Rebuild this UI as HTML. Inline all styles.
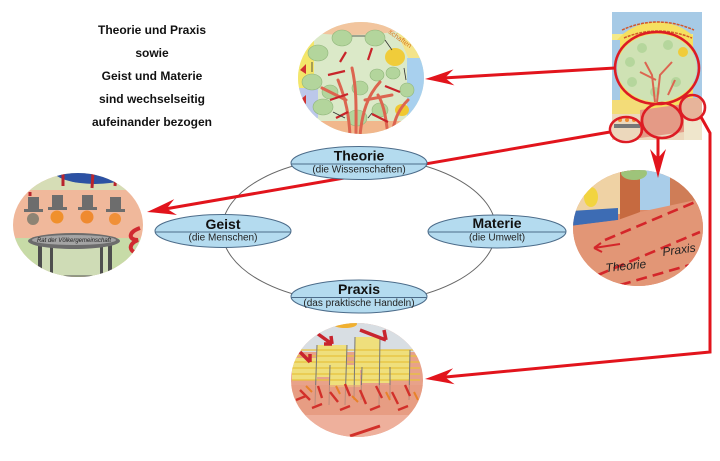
<!DOCTYPE html>
<html><head><meta charset="utf-8">
<style>
html,body{margin:0;padding:0;background:#fff;}
svg{display:block;}
text{font-family:"Liberation Sans",Arial,sans-serif;}
</style></head>
<body>
<svg width="720" height="461" viewBox="0 0 720 461" xmlns="http://www.w3.org/2000/svg">
<defs>
<clipPath id="cTop"><ellipse cx="361" cy="78" rx="63" ry="56"/></clipPath>
<clipPath id="cGeist"><ellipse cx="78" cy="225" rx="65" ry="52"/></clipPath>
<clipPath id="cMat"><ellipse cx="638" cy="228" rx="65" ry="58"/></clipPath>
<clipPath id="cPrax"><ellipse cx="357" cy="380" rx="66" ry="57"/></clipPath>
<clipPath id="cPoster"><rect x="612" y="12" width="90" height="128"/></clipPath>
</defs>

<!-- top-left text -->
<g font-size="12" font-weight="bold" fill="#111" text-anchor="middle">
<text x="152" y="34">Theorie und Praxis</text>
<text x="152" y="57">sowie</text>
<text x="152" y="80">Geist und Materie</text>
<text x="152" y="103">sind wechselseitig</text>
<text x="152" y="126">aufeinander bezogen</text>
</g>

<!-- TOP IMAGE: tree -->
<g clip-path="url(#cTop)">
<rect x="296" y="20" width="132" height="116" fill="#dbe9c8"/>
<ellipse cx="350" cy="18" rx="75" ry="17" fill="#f2c59e"/>
<rect x="296" y="28" width="18" height="66" fill="#f4e66a"/>
<rect x="296" y="88" width="22" height="30" fill="#bcc8ea"/>
<path d="M392,20 L430,20 L430,62 L410,62 Z" fill="#f4e48a"/>
<rect x="407" y="58" width="22" height="62" fill="#a8d0ee"/>
<rect x="296" y="121" width="132" height="16" fill="#f1b78c"/>
<g fill="#b3d59c" stroke="#8fb57a" stroke-width="0.6">
<ellipse cx="342" cy="38" rx="10" ry="8"/>
<ellipse cx="375" cy="38" rx="10" ry="8"/>
<ellipse cx="318" cy="53" rx="10" ry="8"/>
<ellipse cx="312" cy="82" rx="10" ry="8"/>
<ellipse cx="330" cy="92" rx="8" ry="7"/>
<ellipse cx="360" cy="88" rx="8" ry="7"/>
<ellipse cx="377" cy="75" rx="7" ry="6"/>
<ellipse cx="393" cy="73" rx="7" ry="6"/>
<ellipse cx="407" cy="90" rx="7" ry="7"/>
<ellipse cx="323" cy="107" rx="10" ry="8"/>
<ellipse cx="357" cy="118" rx="10" ry="8"/>
<ellipse cx="380" cy="110" rx="8" ry="7"/>
</g>
<ellipse cx="395" cy="57" rx="10" ry="9" fill="#f0cc3a"/>
<ellipse cx="402" cy="110" rx="7" ry="6" fill="#f0c830"/>
<g stroke="#dc6550" stroke-width="3" fill="none" stroke-linecap="round">
<path d="M350,136 C349,115 346,100 338,80"/>
<path d="M356,136 C356,110 357,90 352,68"/>
<path d="M360,136 C362,112 368,95 380,82"/>
<path d="M346,100 L322,88"/>
<path d="M365,100 L392,95"/>
<path d="M388,136 C386,118 384,105 378,95"/>
<path d="M392,136 C394,118 400,108 408,100"/>
</g>
<g stroke="#c8242a" stroke-width="2.2" fill="none">
<path d="M328,75 L345,71"/>
<path d="M330,100 L348,94"/>
<path d="M372,114 L388,122"/>
<path d="M385,86 L400,92"/>
<path d="M336,118 L348,112"/>
<path d="M368,60 L372,48"/>
<path d="M340,62 L346,52"/>
</g>
<g stroke="#333" stroke-width="0.8" fill="none">
<path d="M352,36 L365,36"/><path d="M385,40 L392,50"/><path d="M312,62 L312,72"/>
<path d="M404,68 L406,80"/><path d="M368,118 L372,113"/><path d="M333,112 L345,118"/>
</g>
<text x="388" y="33" font-size="7" fill="#d8781c" transform="rotate(35 388 33)">schaften</text>
<path d="M300,70 L306,64 L306,74 Z M300,100 L306,95 L306,104 Z" fill="#d03030"/>
</g>

<!-- GEIST IMAGE -->
<g clip-path="url(#cGeist)">
<rect x="10" y="170" width="140" height="110" fill="#f0b89b"/>
<rect x="10" y="172" width="140" height="18" fill="#d6ddb6"/>
<ellipse cx="95" cy="170" rx="42" ry="14" fill="#2c51a3"/>
<rect x="10" y="238" width="140" height="42" fill="#c7dba7"/>
<g stroke="#b8242e" stroke-width="3">
<path d="M63,172 L63,186"/><path d="M93,172 L92,188"/><path d="M116,172 L115,186"/><path d="M30,192 L30,196"/>
</g>
<g fill="#6d6d6d">
<rect x="28" y="197" width="11" height="13"/><rect x="24" y="209" width="19" height="3"/>
<rect x="52" y="195" width="11" height="13"/><rect x="48" y="207" width="19" height="3"/>
<rect x="82" y="195" width="11" height="13"/><rect x="78" y="207" width="19" height="3"/>
<rect x="110" y="197" width="11" height="13"/><rect x="106" y="209" width="19" height="3"/>
</g>
<circle cx="33" cy="219" r="6" fill="#8e8474"/>
<circle cx="57" cy="217" r="6.5" fill="#f0902c"/>
<circle cx="87" cy="217" r="6.5" fill="#ef8a30"/>
<circle cx="115" cy="219" r="6" fill="#f09038"/>
<path d="M40,246 L110,246 L112,276 L38,276 Z" fill="#cfdcb6" stroke="#555" stroke-width="1"/>
<g fill="#4e4e4e">
<rect x="38" y="245" width="4" height="32"/><rect x="50" y="246" width="3" height="28"/>
<rect x="100" y="246" width="3" height="28"/><rect x="108" y="245" width="4" height="32"/>
</g>
<ellipse cx="74" cy="241" rx="46" ry="8" fill="#6c6c6c"/>
<ellipse cx="74" cy="240" rx="42" ry="5" fill="#a4a4a4"/>
<text x="74" y="242" font-size="6" fill="#222" text-anchor="middle" font-style="italic">Rat der Völkergemeinschaft</text>
<path d="M140,228 C128,232 128,240 138,240 C128,244 128,252 140,254" stroke="#d02a30" stroke-width="4" fill="none"/>
</g>

<!-- MATERIE IMAGE -->
<g clip-path="url(#cMat)">
<rect x="570" y="168" width="140" height="122" fill="#dc8a68"/>
<rect x="570" y="168" width="52" height="46" fill="#efd2a4"/>
<rect x="620" y="168" width="20" height="52" fill="#c66a40"/>
<rect x="640" y="168" width="30" height="42" fill="#a9cde9"/>
<rect x="670" y="168" width="40" height="46" fill="#cf7d57"/>
<ellipse cx="634" cy="173" rx="13" ry="7" fill="#9ec47a"/>
<ellipse cx="591" cy="197" rx="7" ry="10" fill="#f2d440"/>
<path d="M570,211 L618,208 L618,220 L570,226 Z" fill="#3d6cb4"/>
<path d="M570,226 L618,220 L640,212 L705,198 L710,290 L570,290 Z" fill="#e29676"/>
<g stroke="#d4262a" stroke-width="2.6" fill="none" stroke-dasharray="11 6">
<path d="M605,240 L700,200"/>
<path d="M598,275 L700,232"/>
<path d="M620,285 L700,262"/>
</g>
<path d="M594,248 L620,244 M594,248 L601,243 M594,248 L602,252" stroke="#d4262a" stroke-width="2" fill="none"/>
<text x="663" y="256" font-size="12" fill="#222" font-family="Liberation Serif, serif" font-style="italic" transform="rotate(-8 663 256)">Praxis</text>
<text x="606" y="272" font-size="12" fill="#222" font-family="Liberation Serif, serif" font-style="italic" transform="rotate(-6 606 272)">Theorie</text>
</g>

<!-- PRAXIS IMAGE -->
<g clip-path="url(#cPrax)">
<rect x="288" y="320" width="140" height="120" fill="#e8a28a"/>
<rect x="288" y="320" width="140" height="32" fill="#d8dee3"/>
<ellipse cx="345" cy="324" rx="12" ry="4" fill="#f0b030"/>
<g fill="#efdf7c">
<rect x="317" y="345" width="30" height="32"/>
<rect x="355" y="337" width="25" height="33"/>
<rect x="380" y="350" width="30" height="30"/>
<rect x="330" y="365" width="30" height="22"/>
<rect x="362" y="367" width="28" height="16"/>
<rect x="292" y="358" width="25" height="22"/>
</g>
<g stroke="#e7c23c" stroke-width="1.2">
<path d="M292,350 L420,350"/><path d="M292,356 L420,356"/><path d="M292,362 L420,362"/>
<path d="M292,368 L420,368"/><path d="M292,374 L420,374"/><path d="M292,380 L420,380"/>
</g>
<g stroke="#777" stroke-width="1">
<path d="M317,345 L315,405"/><path d="M347,345 L345,405"/><path d="M355,337 L354,400"/>
<path d="M380,337 L379,405"/><path d="M410,350 L409,400"/><path d="M330,365 L329,405"/>
<path d="M362,367 L361,400"/><path d="M390,367 L390,400"/>
</g>
<rect x="288" y="385" width="140" height="30" fill="#e69a7e" opacity="0.6"/>
<g stroke="#d2302a" stroke-width="2.4">
<path d="M300,390 L310,400"/><path d="M318,386 L322,398"/><path d="M330,392 L338,402"/>
<path d="M345,384 L350,396"/><path d="M360,390 L366,404"/><path d="M376,386 L382,398"/>
<path d="M392,392 L398,404"/><path d="M405,385 L410,396"/><path d="M296,400 L306,396"/>
<path d="M312,408 L322,404"/><path d="M340,410 L350,406"/><path d="M370,410 L380,406"/>
<path d="M398,410 L408,406"/>
</g>
<g stroke="#e8822a" stroke-width="2">
<path d="M306,386 L312,392"/><path d="M336,386 L340,394"/><path d="M352,396 L358,402"/>
<path d="M386,392 L390,400"/><path d="M414,392 L418,400"/>
</g>
<rect x="288" y="415" width="140" height="25" fill="#eeb09c"/>
<path d="M350,436 L380,426" stroke="#d2302a" stroke-width="3"/>
<g stroke="#c8242e" stroke-width="3.5" fill="none">
<path d="M318,334 L332,344 M332,344 L331,336 M332,344 L324,344"/>
<path d="M360,330 L386,340 M386,340 L384,330"/>
<path d="M300,352 L310,362 M310,362 L310,354"/>
</g>
</g>

<!-- POSTER -->
<g clip-path="url(#cPoster)">
<rect x="612" y="12" width="90" height="128" fill="#f4ea8a"/>
<rect x="612" y="12" width="90" height="22" fill="#a6cae6"/>
<ellipse cx="657" cy="72" rx="52" ry="50" fill="#f6e060"/>
<rect x="612" y="40" width="8" height="60" fill="#a6cae6"/>
<rect x="693" y="30" width="9" height="70" fill="#a9cbe6"/>
<path d="M622,30 Q657,14 694,30" stroke="#d2582a" stroke-width="1.5" fill="none" stroke-dasharray="3 1"/>
<path d="M624,38 Q657,24 692,38" stroke="#d2582a" stroke-width="1.5" fill="none" stroke-dasharray="3 1"/>
<ellipse cx="657" cy="68" rx="40" ry="34" fill="#cfe2b4"/>
<g fill="#b5d69c">
<circle cx="642" cy="48" r="5"/><circle cx="668" cy="45" r="5"/><circle cx="630" cy="62" r="5"/>
<circle cx="632" cy="82" r="5"/><circle cx="676" cy="82" r="5"/><circle cx="655" cy="92" r="5"/>
</g>
<circle cx="683" cy="52" r="5" fill="#f0cc3a"/>
<g stroke="#dc6550" stroke-width="2" fill="none">
<path d="M655,102 L652,75 L645,62"/><path d="M657,102 L660,75 L672,62"/><path d="M656,80 L640,72"/><path d="M668,95 L675,80"/>
</g>
<rect x="612" y="100" width="36" height="16" fill="#f3dc78"/>
<rect x="612" y="114" width="90" height="26" fill="#ecd8bc"/>
<path d="M640,110 L684,104 L684,132 L640,138 Z" fill="#e49a86"/>
<rect x="682" y="98" width="20" height="20" fill="#e7b49a"/>
<rect x="684" y="120" width="18" height="20" fill="#efe6cc"/>
<rect x="614" y="124" width="26" height="4" fill="#777"/>
<circle cx="620" cy="120" r="2" fill="#f08a30"/><circle cx="627" cy="120" r="2" fill="#f08a30"/><circle cx="634" cy="120" r="2" fill="#f08a30"/>
</g>
<g fill="none" stroke="#dd1c24" stroke-width="2.6">
<ellipse cx="657" cy="68" rx="42" ry="36"/>
<ellipse cx="626" cy="129.5" rx="16" ry="12.5"/>
<ellipse cx="662" cy="120.5" rx="20" ry="17.5"/>
<ellipse cx="692.5" cy="107.5" rx="12.5" ry="12.5"/>
</g>

<!-- big gray ellipse -->
<ellipse cx="359" cy="230" rx="137" ry="73" fill="none" stroke="#666" stroke-width="1"/>

<!-- red connectors -->
<g stroke="#e2141c" stroke-width="3" fill="none" stroke-linejoin="miter">
<path d="M615,68 L443,78"/>
<path d="M610,132 L165,209"/>
<path d="M658,138 L658,158"/>
<path d="M701,117 L710,133 L710,352 L443,377.3"/>
</g>
<g fill="#e2141c">
<path transform="translate(425,79) rotate(176.7)" d="M0,0 Q-12,-3 -29,-8 L-20,0 L-29,8 Q-12,3 0,0 Z"/>
<path transform="translate(147,212) rotate(170.2)" d="M0,0 Q-12,-3 -29,-8 L-20,0 L-29,8 Q-12,3 0,0 Z"/>
<path transform="translate(658,178) rotate(90)" d="M0,0 Q-12,-3 -29,-8 L-20,0 L-29,8 Q-12,3 0,0 Z"/>
<path transform="translate(425,379) rotate(174.6)" d="M0,0 Q-12,-3 -29,-8 L-20,0 L-29,8 Q-12,3 0,0 Z"/>
</g>

<!-- nodes -->
<g fill="#b4dbef" stroke="#4c6c8a" stroke-width="1">
<ellipse cx="359" cy="163" rx="68" ry="16.5"/>
<ellipse cx="223" cy="231" rx="68" ry="16.5"/>
<ellipse cx="497" cy="231.5" rx="69" ry="16.5"/>
<ellipse cx="359" cy="296.5" rx="68" ry="16.5"/>
</g>
<g stroke="#4c6c8a" stroke-width="1">
<path d="M291,164 L427,164"/>
<path d="M155,232 L291,232"/>
<path d="M428,232 L566,232"/>
<path d="M291,297.5 L427,297.5"/>
</g>
<g fill="#111" text-anchor="middle">
<text x="359" y="160.5" font-size="14" font-weight="bold">Theorie</text>
<text x="359" y="172.5" font-size="10" fill="#222">(die Wissenschaften)</text>
<text x="223" y="229" font-size="14" font-weight="bold">Geist</text>
<text x="223" y="240.5" font-size="10" fill="#222">(die Menschen)</text>
<text x="497" y="228" font-size="14" font-weight="bold">Materie</text>
<text x="497" y="240.5" font-size="10" fill="#222">(die Umwelt)</text>
<text x="359" y="294" font-size="14" font-weight="bold">Praxis</text>
<text x="359" y="306" font-size="10" fill="#222">(das praktische Handeln)</text>
</g>
</svg>
</body></html>
